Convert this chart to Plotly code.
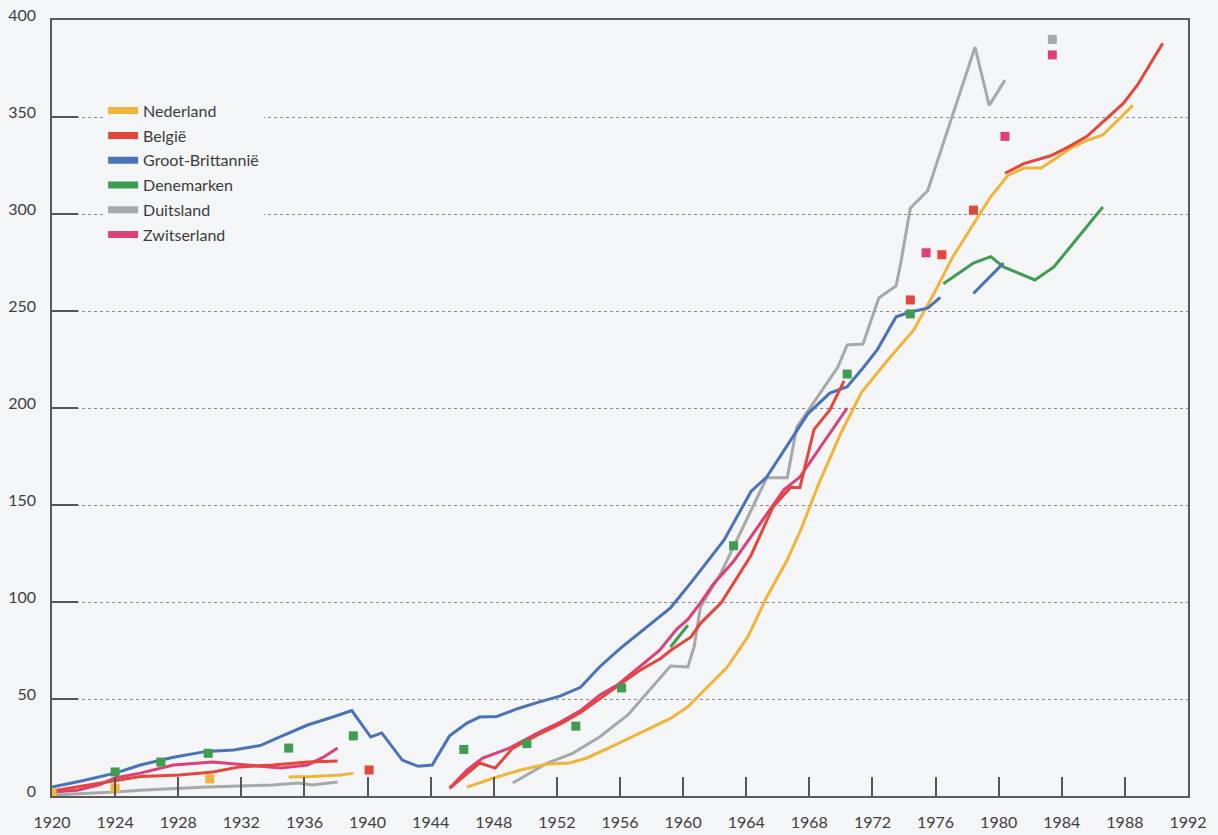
import plotly.graph_objects as go

# ---- data: index values per country (None splits a series into separate segments) ----
NL_YEARS = [1935, 1936.5, 1938.3, 1939.1, None,
            1946.3, 1948, 1949.7, 1951.4, 1952.8, 1953.9, 1955.6, 1957.3, 1959.2, 1960.3,
            1961.5, 1962.8, 1964.1, 1965.3, 1966.6, 1967.5, 1968.6, 1970, 1971.3, 1973,
            1974.6, 1975.9, 1977.1, 1978.4, 1979.5, 1980.6, 1981.6, 1982.7, 1983.5, 1984.7,
            1985.6, 1986.6, 1988.5]
NL_VALUES = [9.8, 10, 10.8, 11.8, None,
             4.6, 9.3, 13.4, 16.5, 17, 19.6, 26, 32.5, 40, 46,
             56, 66.5, 82, 102.6, 121.6, 138, 161, 187, 208, 225,
             240, 259, 278, 295, 309, 320, 323.7, 323.7, 328, 334.5,
             338, 340.7, 356]
NL_POINT_YEARS = [1920, 1924, 1930]
NL_POINT_VALUES = [1.5, 4, 8.8]

BE_YEARS = [1920, 1922.4, 1924, 1925.6, 1928.1, 1930.2, 1931.9, 1934, 1936.2, 1938.1, None,
            1945.2, 1947.1, 1948.1, 1949.2, 1950.9, 1952.2, 1953.5, 1954.7, 1955.8, 1957.3,
            1958.6, 1959.2, 1960.5, 1961.1, 1962.4, 1963.2, 1964.3, 1965.7, 1966.8, 1967.4,
            1968.3, 1969.3, 1970.2, None,
            1980.4, 1981.6, 1983.3, 1984.4, 1985.6, 1986.9, 1987.9, 1988.8, 1990.4]
BE_VALUES = [2.6, 5.7, 8, 10, 10.8, 12.4, 15, 16, 17.5, 18, None,
             4, 17, 14.4, 24.7, 32, 37, 43, 50, 56, 65,
             71, 75, 82, 89, 99.5, 110, 124, 149, 159, 159,
             189, 199, 214, None,
             321, 326, 330, 334.5, 340, 349.5, 357, 366.5, 388]
BE_POINT_YEARS = [1940.1, 1974.4, 1976.4, 1978.4]
BE_POINT_VALUES = [13.4, 255.7, 279, 302]

GB_YEARS = [1920, 1922, 1924, 1925.6, 1927.7, 1929.8, 1931.5, 1933.2, 1934.3, 1936.2,
            1937.8, 1939, 1940.2, 1940.9, 1942.2, 1943.2, 1944.1, 1945.2, 1946.3, 1947.1,
            1948.2, 1949.5, 1950.9, 1952.2, 1953.5, 1954.7, 1956, 1957.7, 1959.2, 1960.5,
            1962.6, 1963.9, 1964.3, 1965.3, 1966.8, 1967.9, 1969.3, 1970.4, 1971.4, 1972.3,
            1973.5, 1974.4, 1975.5, 1976.3, None,
            1978.4, 1980.3]
GB_VALUES = [4.6, 8, 11.8, 16, 20, 23, 23.7, 26, 30, 36.6,
             40.7, 44, 30.4, 32.5, 18.5, 15.3, 16, 31, 37.6, 40.7,
             41, 45, 48.5, 51.5, 56, 66.5, 76, 87, 97, 110,
             132, 151, 157, 164.4, 183.5, 197, 207.7, 211, 220.6, 230,
             247, 249.5, 251.5, 257, None,
             259, 274.7]

DK_YEARS = [1959.2, 1960.3, None,
            1976.5, 1978.4, 1979.5, 1980.3, 1982.3, 1983.5, 1986.6]
DK_VALUES = [76.8, 88, None,
             264, 274.7, 278, 272.7, 266, 272.7, 303.6]
DK_POINT_YEARS = [1924, 1926.9, 1929.9, 1935, 1939.1, 1946.1, 1950.1, 1953.2, 1956.1,
                  1963.2, 1970.4, 1974.4]
DK_POINT_VALUES = [12.4, 17.5, 22, 24.7, 31, 24, 27, 36, 55.7,
                   129, 217.5, 248.5]

DE_YEARS = [1920, 1924, 1925.6, 1929.8, 1934, 1935.6, 1936.5, 1938.1, None,
            1949.2, 1951.4, 1953, 1954.7, 1956.5, 1957.7, 1959.2, 1960.3, 1960.7, 1961.1,
            1962.4, 1965.3, 1966.6, 1967.2, 1968.5, 1969.8, 1970.4, 1971.4, 1972.4, 1973.5,
            1973.8, 1974.4, 1975.5, 1977.1, 1978.5, 1979.4, 1980.4]
DE_VALUES = [0.5, 2, 3, 4.6, 5.7, 6.7, 5.7, 7.2, None,
             6.7, 17, 22, 30.4, 41.8, 53, 67, 66.5, 77, 97.4,
             115, 164, 164, 190, 205.7, 221, 232.5, 233, 256.7, 263,
             275, 303, 312, 352, 386, 356, 369]
DE_POINT_YEARS = [1983.4]
DE_POINT_VALUES = [390]

CH_YEARS = [1920, 1921.6, 1923, 1924, 1925.6, 1927.7, 1930.2, 1932.4, 1934.5, 1936.2,
            1937.2, 1938.1, None,
            1945.2, 1946.3, 1947.3, 1949, 1950.9, 1952.2, 1953.5, 1954.7, 1955.8, 1957.3,
            1958.5, 1959.6, 1960.3, 1961.1, 1961.9, 1963.2, 1966.4, 1967.4, 1970.4]
CH_VALUES = [2, 3, 5.7, 9.3, 11.8, 16, 17.5, 16, 14.4, 16,
             20, 24.7, None,
             4, 13.4, 19.6, 24.7, 33, 38, 44, 52, 57, 67,
             75, 86, 91, 99.5, 109, 121, 158, 164.4, 200]
CH_POINT_YEARS = [1975.4, 1980.4, 1983.4]
CH_POINT_VALUES = [280, 340, 382]

YEAR_TICKS = list(range(1920, 1993, 4))
VALUE_TICKS = list(range(0, 401, 50))

COLORS = {
    "Nederland": "#f0b43a",
    "België": "#e4463c",
    "Groot-Brittannië": "#4a72b8",
    "Denemarken": "#3f9c50",
    "Duitsland": "#a7a8aa",
    "Zwitserland": "#dd3f78",
}

LEGEND_ORDER = ["Nederland", "België", "Groot-Brittannië", "Denemarken", "Duitsland", "Zwitserland"]

lines = [
    ("Duitsland", DE_YEARS, DE_VALUES),
    ("Nederland", NL_YEARS, NL_VALUES),
    ("Denemarken", DK_YEARS, DK_VALUES),
    ("Groot-Brittannië", GB_YEARS, GB_VALUES),
    ("Zwitserland", CH_YEARS, CH_VALUES),
    ("België", BE_YEARS, BE_VALUES),
]
points = [
    ("Nederland", NL_POINT_YEARS, NL_POINT_VALUES),
    ("België", BE_POINT_YEARS, BE_POINT_VALUES),
    ("Denemarken", DK_POINT_YEARS, DK_POINT_VALUES),
    ("Duitsland", DE_POINT_YEARS, DE_POINT_VALUES),
    ("Zwitserland", CH_POINT_YEARS, CH_POINT_VALUES),
]

BG = "#f3f5f6"
FONT = "Lato, 'Open Sans', sans-serif"

fig = go.Figure()

# legend swatches: thick bars, one per country
for name in LEGEND_ORDER:
    fig.add_trace(go.Scatter(
        x=[None], y=[None], mode="lines", name=name, legendgroup=name,
        line=dict(color=COLORS[name], width=7), showlegend=True, hoverinfo="skip",
    ))

for name, xs, ys in lines:
    fig.add_trace(go.Scatter(
        x=xs, y=ys, mode="lines", name=name, legendgroup=name, showlegend=False,
        connectgaps=False, line=dict(color=COLORS[name], width=3),
    ))

for name, xs, ys in points:
    fig.add_trace(go.Scatter(
        x=xs, y=ys, mode="markers", name=name, legendgroup=name, showlegend=False,
        marker=dict(symbol="square", size=9, color=COLORS[name]),
    ))

fig.update_layout(
    width=1218, height=835,
    margin=dict(l=52, r=30, t=20, b=39, autoexpand=False),
    paper_bgcolor=BG, plot_bgcolor=BG,
    font=dict(family=FONT, size=16, color="#404040"),
    showlegend=True,
    legend=dict(
        x=0.045, y=0.905, xanchor="left", yanchor="top",
        bgcolor=BG, borderwidth=0,
        font=dict(family=FONT, size=16, color="#3c3c3c"),
        tracegroupgap=1, itemwidth=30,
    ),
)

fig.update_xaxes(
    range=[1920, 1992], tickvals=YEAR_TICKS, ticks="inside", ticklen=19,
    tickwidth=1.5, tickcolor="#555", showgrid=False, zeroline=False,
    showline=True, linecolor="#5a5a5a", linewidth=1.5, mirror=True,
    automargin=False, ticklabelstandoff=11,
    tickfont=dict(family=FONT, size=16, color="#404040"),
)
fig.update_yaxes(
    range=[0, 400], tickvals=VALUE_TICKS, ticks="inside", ticklen=26,
    tickwidth=1.5, tickcolor="#555", showgrid=True, gridcolor="#8a8a8a",
    griddash="dot", gridwidth=1, zeroline=False,
    showline=True, linecolor="#5a5a5a", linewidth=1.5, mirror=True,
    automargin=False, ticklabelstandoff=11, ticklabelshift=-5,
    tickfont=dict(family=FONT, size=16, color="#404040"),
)

fig.write_html("out.html")
